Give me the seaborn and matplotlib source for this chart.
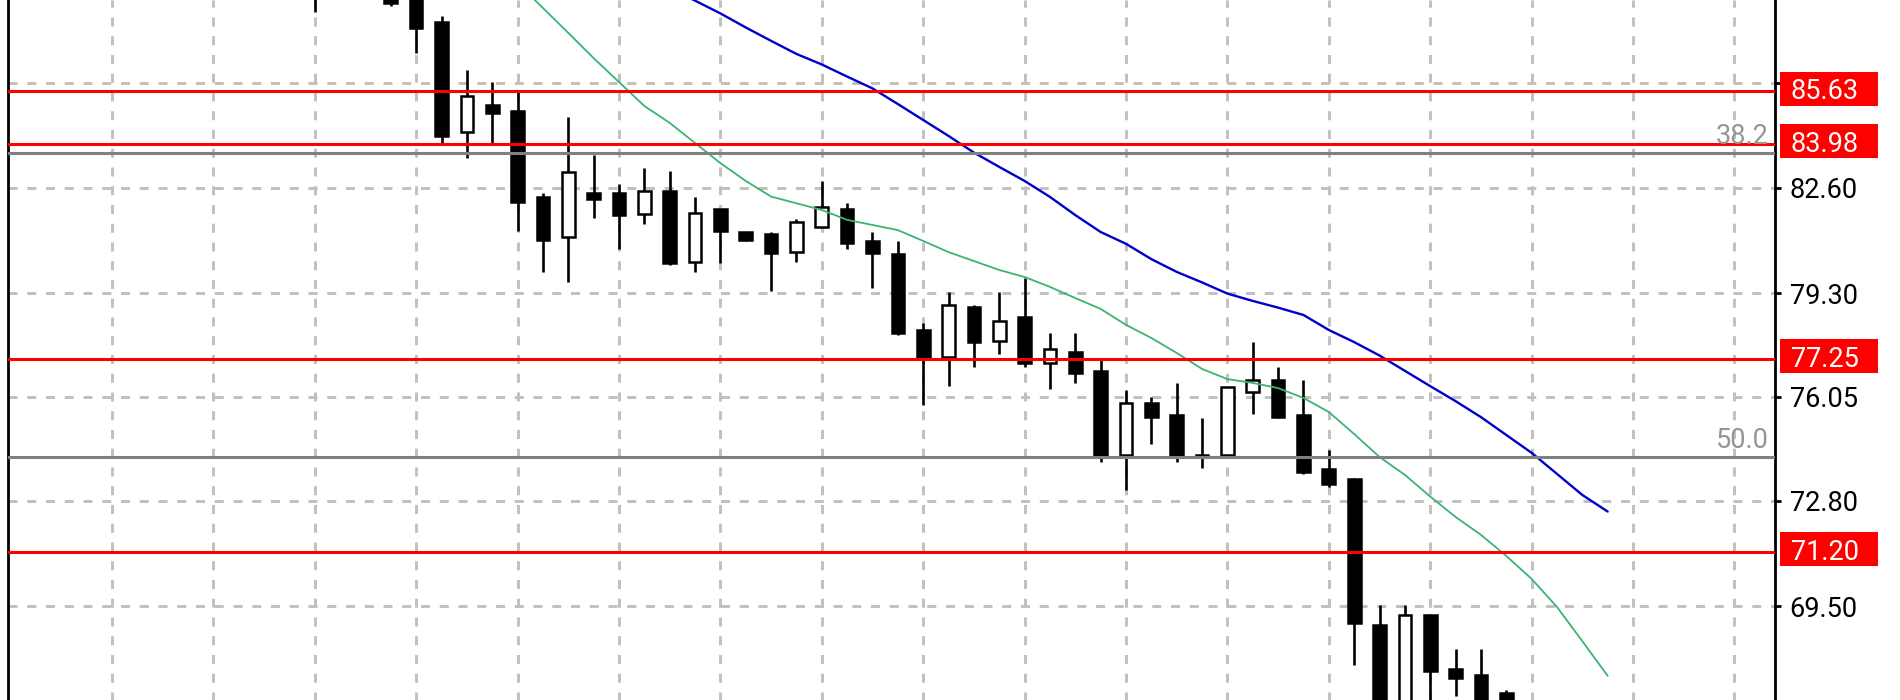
# Graphique en chandeliers (style MT4) avec moyennes mobiles, niveaux et Fibonacci
import numpy as np
import pandas as pd
import matplotlib.pyplot as plt
import matplotlib.transforms as mtransforms
from matplotlib.patches import Rectangle
import seaborn as sns

# Données (indice de barre, OHLC)
bar_idx = list(range(12, 60))
opens = [88.95, 89.20, 89.00, 88.60, 88.90, 87.79, 84.36, 85.20, 85.01, 82.33,
         81.07, 82.43, 82.43, 81.79, 82.52, 80.29, 81.93, 81.23, 81.15, 80.60,
         81.39, 81.93, 80.95, 80.53, 78.15, 77.31, 78.86, 77.81, 78.57, 77.11,
         77.47, 76.87, 74.23, 75.87, 75.49, 74.22, 74.23, 76.22, 76.57, 75.49,
         73.79, 73.48, 68.92, 66.10, 69.22, 67.54, 67.33, 66.76]
highs = [89.30, 89.60, 89.30, 88.75, 89.10, 88.00, 86.30, 85.91, 85.67, 82.43,
         84.82, 83.63, 82.73, 83.22, 83.13, 82.33, 81.93, 81.23, 81.23, 81.63,
         82.83, 82.14, 81.23, 80.95, 78.36, 79.35, 78.93, 79.35, 79.77, 78.07,
         78.07, 77.21, 76.27, 76.06, 76.48, 75.38, 76.36, 77.78, 76.98, 76.57,
         74.39, 73.50, 69.52, 69.52, 69.24, 68.15, 68.15, 66.87]
lows = [88.12, 88.70, 88.60, 88.31, 86.82, 84.02, 83.55, 84.02, 81.26, 79.98,
        79.66, 81.65, 80.68, 81.47, 80.19, 79.98, 80.24, 80.95, 79.36, 80.27,
        81.37, 80.68, 79.48, 77.99, 75.80, 76.39, 77.00, 77.40, 77.00, 76.29,
        76.50, 74.00, 73.12, 74.59, 74.00, 73.82, 74.22, 75.52, 75.40, 73.64,
        73.22, 67.65, 65.40, 65.70, 65.90, 66.68, 65.80, 66.10]
closes = [88.75, 89.00, 88.80, 88.40, 87.60, 84.23, 85.49, 84.94, 82.15, 80.97,
          83.11, 82.26, 81.75, 82.52, 80.26, 81.83, 81.26, 80.97, 80.57, 81.54,
          81.99, 80.87, 80.57, 78.07, 77.26, 78.93, 77.78, 78.44, 77.11, 77.55,
          76.81, 74.20, 75.87, 75.41, 74.20, 74.19, 76.35, 76.57, 75.41, 73.71,
          73.32, 68.96, 65.90, 69.22, 67.47, 67.26, 66.10, 66.30]

# Moyennes mobiles (décalées vers l'avant)
ma_fast_idx = list(range(20, 64))
ma_fast = [89.02, 88.24, 87.46, 86.67, 85.92, 85.17, 84.64, 84.01, 83.38, 82.82,
           82.33, 82.12, 81.91, 81.60, 81.44, 81.28, 80.94, 80.59, 80.31, 80.03,
           79.81, 79.50, 79.15, 78.81, 78.31, 77.90, 77.43, 76.93, 76.61, 76.49,
           76.33, 76.02, 75.58, 74.89, 74.17, 73.61, 72.93, 72.29, 71.73, 71.07,
           70.35, 69.47, 68.40, 67.31]
ma_slow_idx = list(range(26, 64))
ma_slow = [88.87, 88.47, 88.07, 87.63, 87.21, 86.80, 86.47, 86.09, 85.72, 85.23,
           84.73, 84.23, 83.71, 83.26, 82.82, 82.32, 81.75, 81.22, 80.85, 80.37,
           79.97, 79.64, 79.29, 79.06, 78.85, 78.62, 78.15, 77.77, 77.35, 76.87,
           76.39, 75.92, 75.42, 74.86, 74.30, 73.64, 72.98, 72.46]

# Niveaux horizontaux
levels_red = [85.63, 83.98, 77.25, 71.20]
levels_fib = [83.70, 74.16]
fib_labels = ['38.2', '50.0']
ytick_vals = [85.90, 82.60, 79.30, 76.05, 72.80, 69.50, 66.25]
ytick_labels = ['', '82.60', '79.30', '76.05', '72.80', '69.50', '66.25']  # 85.90 caché sous l'étiquette rouge

sns.set_style('white')
plt.rcParams['font.family'] = ['Roboto', 'DejaVu Sans']
plt.rcParams['lines.scale_dashes'] = False
FS = 19.5

fig = plt.figure(figsize=(19, 7), dpi=100)
ax = fig.add_axes([8 / 1900, -30 / 700, 1767 / 1900, 730 / 700])

df = pd.DataFrame({'bar': bar_idx, 'open': opens, 'high': highs,
                   'low': lows, 'close': closes})
bull = df['close'] > df['open']

# mèches puis corps
ax.vlines(df['bar'], df['low'], df['high'], color='black', linewidth=1.9, zorder=2)
body_lo = df[['open', 'close']].min(axis=1)
body_h = (df['close'] - df['open']).abs()
ax.bar(df['bar'], body_h, bottom=body_lo, width=0.5,
       color=np.where(bull, 'white', 'black'), edgecolor='black',
       linewidth=1.8, zorder=3)

# moyennes mobiles
sns.lineplot(x=ma_fast_idx, y=ma_fast, ax=ax, color='#3cb371', linewidth=1.3, zorder=4)
sns.lineplot(x=ma_slow_idx, y=ma_slow, ax=ax, color='#0000cd', linewidth=1.7, zorder=4)

# lignes de niveaux
for lv in levels_red:
    ax.axhline(lv, color='#ff0000', linewidth=2.2, zorder=5)
for lv, lab in zip(levels_fib, fib_labels):
    ax.axhline(lv, color='#808080', linewidth=2.2, zorder=5)
    ax.annotate(lab, xy=(1, lv), xycoords=('axes fraction', 'data'),
                xytext=(-4.5, 6.7), textcoords='offset points', ha='right',
                va='baseline', color='#959595', fontsize=FS, zorder=6)

# étiquettes rouges sur l'axe des prix
trans = mtransforms.blended_transform_factory(fig.transFigure, ax.transData)
for lv in levels_red:
    ax.add_patch(Rectangle((1779.5 / 1900, lv + 0.08 - 0.53), 98 / 1900, 1.065,
                           transform=trans, facecolor='#ff0000', edgecolor='none',
                           clip_on=False, zorder=10))
    ax.text(1791 / 1900, lv + 0.08, f'{lv:.2f}', transform=trans, color='white',
            fontsize=FS, va='center_baseline', ha='left', zorder=11, clip_on=False)

# axes, grille
ax.set_yticks(ytick_vals)
ax.set_yticklabels(ytick_labels)
ax.yaxis.tick_right()
ax.tick_params(axis='y', direction='out', length=4.5, width=2, color='black',
               labelsize=FS, pad=6, labelcolor='black', right=True, left=False)
ax.set_xticks(range(4, 70, 4))
ax.tick_params(axis='x', length=0, labelbottom=False)
ax.grid(True, color='#c0c0c0', linestyle=(0, (6.5, 7)), linewidth=2.1)
ax.set_axisbelow(True)

for s in ['top', 'bottom']:
    ax.spines[s].set_visible(False)
for s in ['left', 'right']:
    ax.spines[s].set_visible(True)
    ax.spines[s].set_color('black')
    ax.spines[s].set_linewidth(2)

ax.set_xlim(-0.10, 69.60)
ax.set_ylim(65.615, 88.49)
ax.set_xlabel('')
ax.set_ylabel('')

fig.savefig('out.png', dpi=100)
